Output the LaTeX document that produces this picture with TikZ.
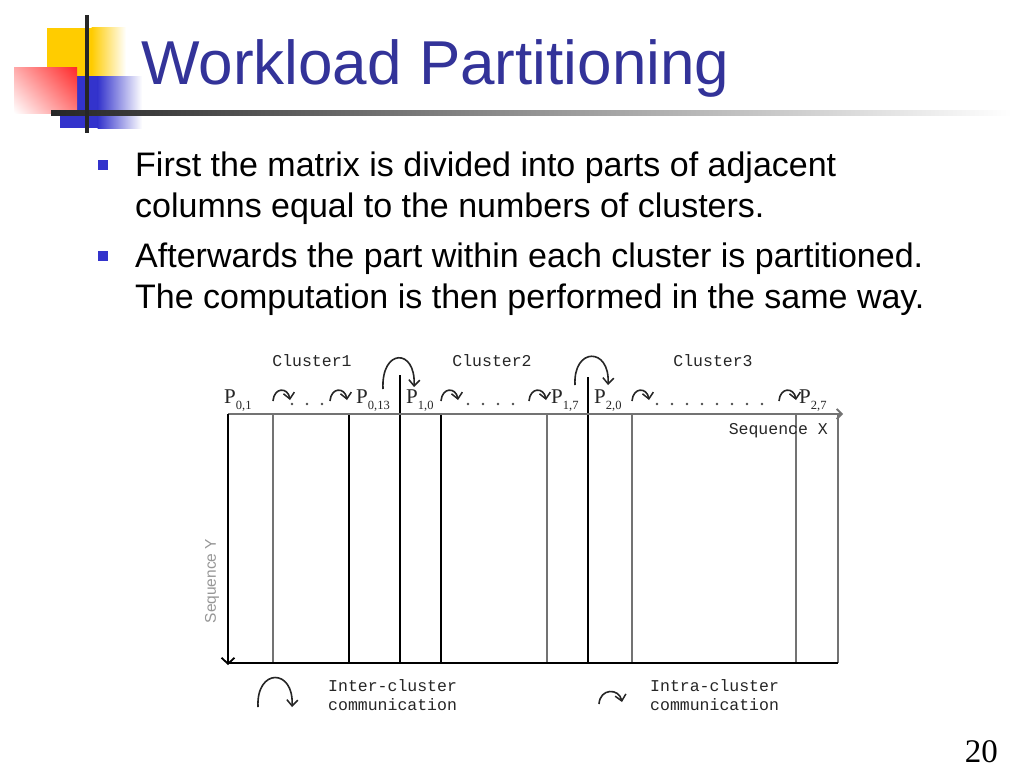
\documentclass[tikz,border=0pt]{standalone}
\usepackage{fontspec}
\setmainfont{Liberation Sans}
\newfontfamily\seriffont{Liberation Serif}
\newfontfamily\monofont{Liberation Mono}
\usetikzlibrary{arrows.meta,shadings}
\definecolor{titleblue}{RGB}{51,51,153}
\definecolor{bulletblue}{RGB}{51,51,204}
\definecolor{logoyellow}{RGB}{255,204,0}
\definecolor{logored}{RGB}{255,40,40}
\definecolor{logoblue}{RGB}{51,51,204}
\definecolor{linegray}{RGB}{115,115,115}
\definecolor{textgray}{RGB}{150,150,150}
\newcommand\Plab[2]{{\fontsize{21}{21}\selectfont P}\raisebox{-6pt}{\fontsize{12.5}{12.5}\selectfont #1,#2}}
\tikzset{
  bodytext/.style={anchor=base west, inner sep=0pt, font=\fontsize{34}{34}\selectfont},
  monotext/.style={inner sep=0pt, text=black!85, font=\monofont\fontsize{16.5}{16.5}\selectfont},
  plabel/.style={anchor=base west, inner sep=0pt, text=black!85, font=\seriffont},
  grayline/.style={draw=linegray, line width=1.8pt},
  blackline/.style={draw=black, line width=1.8pt},
  commtip/.style={-{Straight Barb[length=6pt,width=11pt,line width=1.5pt]}},
  commline/.style={draw=black!85, line width=1.6pt, commtip},
  bulletsq/.style={fill=bulletblue, draw=none},
  dotmark/.style={fill=black!70},
  intra/.pic={\draw[commline] (0,0) .. controls (1,-14) and (15,-14) .. (17,-1);}
}
\begin{document}
\begin{tikzpicture}[x=1pt,y=-1pt]
\useasboundingbox[fill=white] (0,0) rectangle (1024,768);

% ---- logo ----
\fill[logoyellow] (47,28) rectangle (92,76);
\shade[left color=logoyellow, right color=white] (91.5,28) rectangle (126,76);
\fill[logoblue] (60,76) rectangle (98,128);
\shade[left color=logoblue, right color=white] (97.5,76) rectangle (142,128);
\shade[upper right=logored, lower left=white, upper left=logored!40, lower right=logored!60] (14,67) rectangle (77,113);
\shade[left color=black!85, right color=white] (51,110) rectangle (1012,115);
\fill[black!85] (85,15) rectangle (89,133);

% ---- title ----
\node[anchor=base west, inner sep=0pt, text=titleblue, font=\fontsize{62}{62}\selectfont] (title) at (141,84) {Workload Partitioning};

% ---- bullets ----
\fill[bulletsq] (98,160) rectangle (108,170);
\fill[bulletsq] (98,251) rectangle (108,261);
\node[bodytext] (l1) at (135,176) {First the matrix is divided into parts of adjacent};
\node[bodytext] (l2) at (135,217) {columns equal to the numbers of clusters.};
\node[bodytext] (l3) at (135,267) {Afterwards the part within each cluster is partitioned.};
\node[bodytext] (l4) at (135,308) {The computation is then performed in the same way.};

% ---- page number ----
\node[anchor=base east, inner sep=0pt, text depth=0pt, font=\seriffont\fontsize{33}{33}\selectfont] (pnum) at (998,762) {20};

% ---- matrix ----
\coordinate (tl) at (228,414);
\coordinate (tr) at (838,414);
\coordinate (bl) at (228,663);
\coordinate (br) at (838,663);
\coordinate (xend) at (843,414);
\coordinate (yend) at (228,665);
\foreach \x in {273,547,632,796} \draw[grayline] (\x,414) -- (\x,663);
\foreach \x in {349,441} \draw[blackline] (\x,414) -- (\x,663);
\draw[blackline] (400,375) -- (400,663);
\draw[blackline] (588,377) -- (588,663);
\draw[grayline] (tr) -- (br);
\draw[grayline, -{Straight Barb[length=5pt,width=10pt]}] (tl) -- (xend);
\draw[blackline] (bl) -- (br);
\draw[blackline, -{Straight Barb[length=6pt,width=13pt]}] (tl) -- (yend);

% ---- cluster labels ----
\node[monotext] (c1) at (312,361) {Cluster1};
\node[monotext] (c2) at (492,361) {Cluster2};
\node[monotext] (c3) at (713,361) {Cluster3};
\node[monotext, anchor=east] (sx) at (828,431) {Sequence X};
\node[inner sep=0pt, rotate=90, text=textgray, font=\fontsize{15.5}{15.5}\selectfont] (sy) at (212,581) {Sequence Y};

% ---- processor labels ----
\node[plabel] (p01) at (224,403) {\Plab{0}{1}};
\node[plabel] (p013) at (356,403) {\Plab{0}{13}};
\node[plabel] (p10) at (406,403) {\Plab{1}{0}};
\node[plabel] (p17) at (551,403) {\Plab{1}{7}};
\node[plabel] (p20) at (594,403) {\Plab{2}{0}};
\node[plabel] (p27) at (799,403) {\Plab{2}{7}};

% ---- intra-cluster arrows ----
\pic at (273,401) {intra};
\pic at (330,401) {intra};
\pic at (441,401) {intra};
\pic at (529,401) {intra};
\pic at (632,401) {intra};
\pic at (779,401) {intra};

% ---- dots ----
\foreach \x in {292,307,322} \fill[dotmark] (\x,404) circle[radius=1.3pt];
\foreach \x in {468,483,498,513} \fill[dotmark] (\x,404) circle[radius=1.3pt];
\foreach \x in {657,672,687,702,717,732,747,762} \fill[dotmark] (\x,404) circle[radius=1.3pt];

% ---- inter-cluster arrows ----
\draw[commline] (383,389) .. controls (381,348) and (416,348) .. (414,387);
\draw[commline] (575,385) .. controls (573,347) and (610,347) .. (608,385);

% ---- legend ----
\draw[commline] (258,707) .. controls (256,668) and (294,668) .. (292,707);
\node[monotext, anchor=west] (leg1a) at (328,686) {Inter-cluster};
\node[monotext, anchor=west] (leg1b) at (328,705) {communication};
\draw[commline] (599,704) .. controls (600,688) and (619,688) .. (622,702);
\node[monotext, anchor=west] (leg2a) at (650,686) {Intra-cluster};
\node[monotext, anchor=west] (leg2b) at (650,705) {communication};
\end{tikzpicture}
\end{document}
